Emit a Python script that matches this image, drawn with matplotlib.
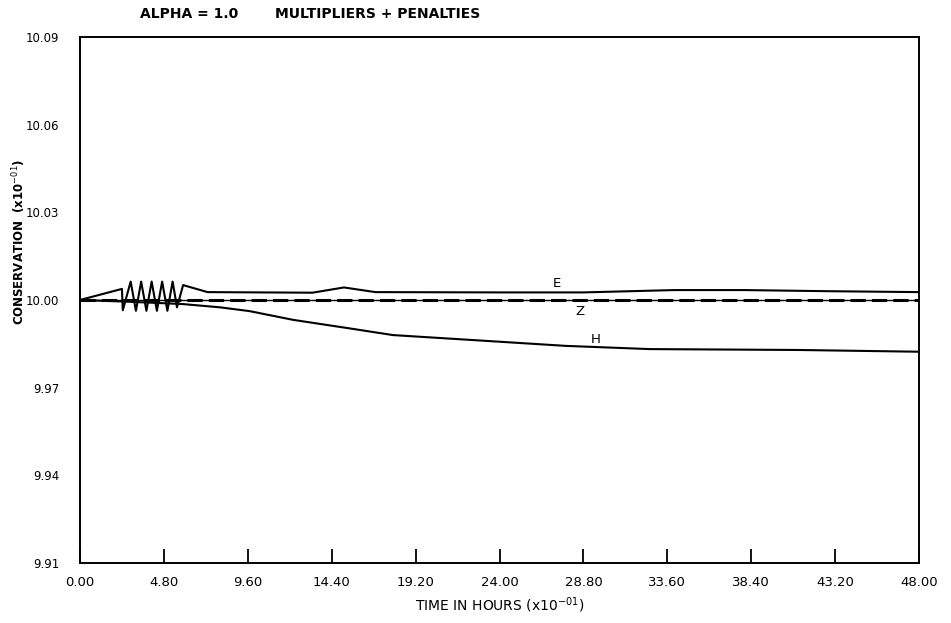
import matplotlib
matplotlib.use("Agg")
import matplotlib.pyplot as plt

# valores (tempo em x10^-1 horas)
t_e = [0.0, 2.4, 2.45, 2.9, 3.2, 3.5, 3.8, 4.1, 4.4, 4.7, 5.0, 5.3, 5.55, 5.9,
       7.3, 13.3, 15.1, 16.9, 24.0, 28.8, 34.0, 38.0, 43.0, 48.0]
e_vals = [10.000, 10.0038, 9.9965, 10.0063, 9.9963, 10.0063, 9.9963, 10.0063,
          9.9963, 10.0063, 9.9963, 10.0063, 9.9975, 10.0051,
          10.0027, 10.0025, 10.0043, 10.0027, 10.0026, 10.0026, 10.0034,
          10.0034, 10.0030, 10.0027]

t_h = [0.0, 2.4, 4.8, 5.9, 8.0, 9.7, 12.2, 15.3, 17.9, 23.0, 27.8, 32.6, 41.1, 48.0]
h_vals = [10.000, 9.9995, 9.9989, 9.9986, 9.9975, 9.9962, 9.9932, 9.9904,
          9.9880, 9.9861, 9.9843, 9.9832, 9.9829, 9.9823]

t_z = [0.0, 48.0]
z_vals = [10.000, 10.000]

x_ticks = [0.0, 4.8, 9.6, 14.4, 19.2, 24.0, 28.8, 33.6, 38.4, 43.2, 48.0]
y_ticks = [9.91, 9.94, 9.97, 10.00, 10.03, 10.06, 10.09]

fig = plt.figure(figsize=(9.51, 6.23), dpi=100)
ax = fig.add_axes([0.0841, 0.0963, 0.8823, 0.8443])

ax.plot(t_z, z_vals, color='black', lw=1.0)  # linha base
ax.plot(t_z, z_vals, color='black', lw=2.2, dashes=(5, 2))
ax.plot(t_e, e_vals, color='black', lw=1.5)
ax.plot(t_h, h_vals, color='black', lw=1.5)

# rotulos das curvas
ax.text(27.3, 10.0055, 'E', fontsize=9.5, ha='center', va='center')
ax.text(28.6, 9.9962, 'Z', fontsize=9.5, ha='center', va='center')
ax.text(29.5, 9.9866, 'H', fontsize=9.5, ha='center', va='center')

ax.set_xlim(0, 48)
ax.set_ylim(9.91, 10.09)
ax.set_xticks(x_ticks)
ax.set_xticklabels(['%.2f' % v for v in x_ticks], fontsize=9.5)
ax.set_yticks(y_ticks)
ax.set_yticklabels(['%.2f' % v for v in y_ticks], fontsize=8.5)
ax.tick_params(axis='x', direction='in', length=10, width=1.3, pad=9)
ax.tick_params(axis='y', direction='in', length=0, pad=15)
for lado in ax.spines.values():
    lado.set_linewidth(1.4)

ax.set_xlabel('TIME IN HOURS (x10$^{-01}$)', fontsize=10, labelpad=5)
ax.set_ylabel('CONSERVATION  (x10$^{-01}$)', fontsize=8.5, fontweight='semibold')
ax.yaxis.set_label_coords(-0.062, 0.61)

fig.text(0.147, 0.978, 'ALPHA = 1.0', fontsize=10, fontweight='bold', va='center')
fig.text(0.289, 0.978, 'MULTIPLIERS + PENALTIES', fontsize=10, fontweight='bold',
         va='center')

fig.savefig('out.png', dpi=100)
